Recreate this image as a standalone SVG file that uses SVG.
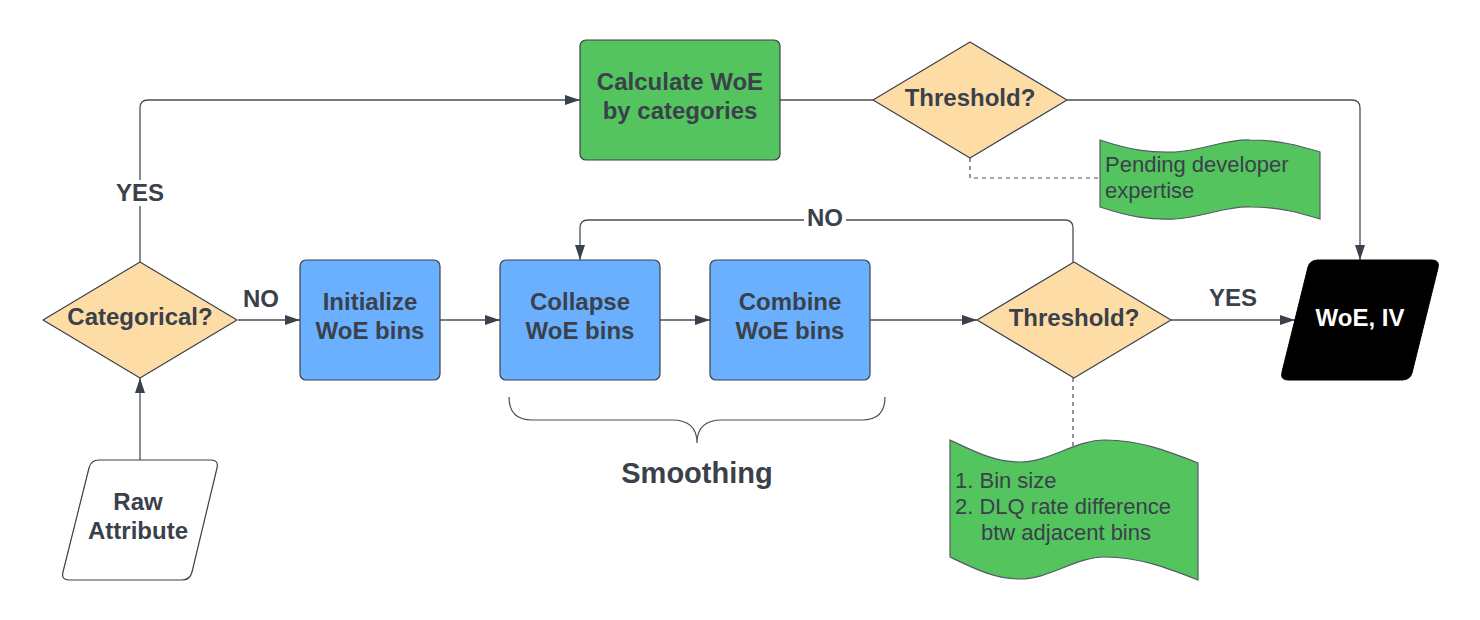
<svg xmlns="http://www.w3.org/2000/svg" width="1480" height="620" viewBox="0 0 1480 620">
<defs>
<marker id="arr" markerWidth="16" markerHeight="11" refX="15" refY="5" orient="auto" markerUnits="userSpaceOnUse"><path d="M0,0 L15,5 L0,10 z" fill="#3a414a"/></marker>
<style>
.conn{fill:none;stroke:#4a5058;stroke-width:1.3}
.dash{fill:none;stroke:#4a5058;stroke-width:1.2;stroke-dasharray:4 4}
.dia{fill:#FEDCA6;stroke:#3a414a;stroke-width:1.2;stroke-linejoin:round}
.blue{fill:#6BB0FF;stroke:#3a414a;stroke-width:1.2}
.green{fill:#54C45E;stroke:#3a414a;stroke-width:1.2}
.tape{fill:#54C45E;stroke:#555b63;stroke-width:1.2}
.lbl{font-family:"Liberation Sans",Arial,sans-serif;font-weight:bold;font-size:24px;fill:#3a414a;text-anchor:middle}
.note{font-family:"Liberation Sans",Arial,sans-serif;font-size:22px;fill:#3a414a}
</style>
</defs>
<rect width="1480" height="620" fill="#ffffff"/>
<g id="connectors">
<path class="conn" d="M140,262 L140,108 Q140,100 148,100 L580,100" marker-end="url(#arr)"/>
<rect x="112" y="180" width="56" height="26" fill="#ffffff"/>
<text class="lbl" x="140" y="201">YES</text>
<path class="conn" d="M780,100 L873,100"/>
<path class="conn" d="M1067,100 L1352,100 Q1360,100 1360,108 L1360,260" marker-end="url(#arr)"/>
<path class="dash" d="M970,158 L970,178 L1100,178"/>
<path class="conn" d="M140,460 L140,378" marker-end="url(#arr)"/>
<path class="conn" d="M238,320 L300,320" marker-end="url(#arr)"/>
<text class="lbl" x="261" y="307">NO</text>
<path class="conn" d="M440,320 L500,320" marker-end="url(#arr)"/>
<path class="conn" d="M660,320 L710,320" marker-end="url(#arr)"/>
<path class="conn" d="M870,320 L977,320" marker-end="url(#arr)"/>
<path class="conn" d="M1073,262 L1073,228 Q1073,220 1065,220 L588,220 Q580,220 580,228 L580,260" marker-end="url(#arr)"/>
<rect x="804" y="205" width="42" height="26" fill="#ffffff"/>
<text class="lbl" x="825" y="226">NO</text>
<path class="conn" d="M1171,320 L1295,320" marker-end="url(#arr)"/>
<text class="lbl" x="1233" y="306">YES</text>
<path class="dash" d="M1073,378 L1073,452"/>
</g>
<g id="calc">
<rect class="green" x="580" y="40" width="200" height="120" rx="6"/>
<text class="lbl" x="680" y="90">Calculate WoE</text>
<text class="lbl" x="680" y="119">by categories</text>
</g>
<g id="threshold1">
<polygon class="dia" points="970,42 1067,100 970,158 873,100"/>
<text class="lbl" x="970" y="106">Threshold?</text>
</g>
<g id="pending">
<path class="tape" d="M1100,140 C1130,150 1150,153 1175,152 C1205,150 1225,139 1250,140 C1280,140 1300,146 1320,152 L1320,219 C1300,213 1280,207 1250,207 C1225,206 1205,217 1175,219 C1150,220 1130,217 1100,207 Z"/>
<text class="note" x="1105" y="172">Pending developer</text>
<text class="note" x="1105" y="198">expertise</text>
</g>
<g id="categorical">
<polygon class="dia" points="140,262 237,320 140,378 43,320"/>
<text class="lbl" x="140" y="325">Categorical?</text>
</g>
<g id="raw">
<path d="M99,460 L211,460 Q219,460 217,468 L192,572 Q190,580 182,580 L69,580 Q61,580 63,572 L89,468 Q91,460 99,460 Z" fill="#ffffff" stroke="#3a414a" stroke-width="1.2"/>
<text class="lbl" x="138" y="510">Raw</text>
<text class="lbl" x="138" y="539">Attribute</text>
</g>
<g id="initialize">
<rect class="blue" x="300" y="260" width="140" height="120" rx="6"/>
<text class="lbl" x="370" y="310">Initialize</text>
<text class="lbl" x="370" y="339">WoE bins</text>
</g>
<g id="collapse">
<rect class="blue" x="500" y="260" width="160" height="120" rx="6"/>
<text class="lbl" x="580" y="310">Collapse</text>
<text class="lbl" x="580" y="339">WoE bins</text>
</g>
<g id="combine">
<rect class="blue" x="710" y="260" width="160" height="120" rx="6"/>
<text class="lbl" x="790" y="310">Combine</text>
<text class="lbl" x="790" y="339">WoE bins</text>
</g>
<g id="threshold2">
<polygon class="dia" points="1074,262 1171,320 1074,378 977,320"/>
<text class="lbl" x="1074" y="326">Threshold?</text>
</g>
<g id="woe">
<path d="M1318,260 L1432,260 Q1440,260 1438,268 L1412,373 Q1410,380 1402,380 L1288,380 Q1280,380 1282,372 L1308,267 Q1310,260 1318,260 Z" fill="#000000" stroke="#000000" stroke-width="1"/>
<text class="lbl" x="1360" y="326" style="fill:#ffffff">WoE, IV</text>
</g>
<g id="criteria">
<path class="tape" d="M950,440 C975,452 995,462 1020,462 C1050,462 1075,440 1105,440 C1140,440 1170,452 1198,463 L1198,580 C1170,569 1140,557 1105,557 C1075,557 1050,579 1020,579 C995,579 975,569 950,557 Z"/>
<text class="note" x="955" y="488">1. Bin size</text>
<text class="note" x="955" y="514">2. DLQ rate difference</text>
<text class="note" x="981" y="540">btw adjacent bins</text>
</g>
<g id="smoothing">
<path d="M509,397 Q509,420 532,420 L672,420 Q697,420 697,443 Q697,420 722,420 L862,420 Q885,420 885,397" fill="none" stroke="#4a5058" stroke-width="1.2"/>
<text class="lbl" x="697" y="483" style="font-size:29px">Smoothing</text>
</g>
</svg>
